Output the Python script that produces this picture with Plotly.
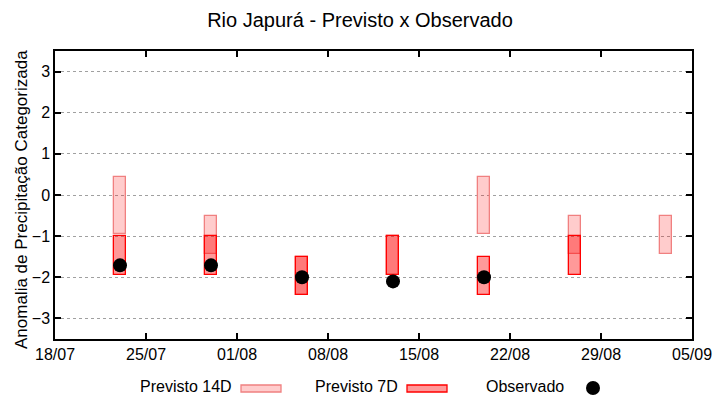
import plotly.graph_objects as go

# ---- data ----
dates = ['2023-07-23', '2023-07-30', '2023-08-06', '2023-08-13',
         '2023-08-20', '2023-08-27', '2023-09-03']
p14_low = [-0.95, -1.44, -2.44, -1.95, -0.95, -1.44, -1.44]
p14_high = [0.44, -0.51, -1.51, -1.00, 0.44, -0.51, -0.51]
p7_dates = ['2023-07-23', '2023-07-30', '2023-08-06', '2023-08-13',
            '2023-08-20', '2023-08-27']
p7_low = [-1.95, -1.95, -2.44, -1.95, -2.44, -1.95]
p7_high = [-1.00, -1.00, -1.51, -1.00, -1.51, -1.00]
obs_dates = ['2023-07-23', '2023-07-30', '2023-08-06', '2023-08-13', '2023-08-20']
obs_vals = [-1.71, -1.71, -2.00, -2.10, -2.00]
tick_dates = ['2023-07-18', '2023-07-25', '2023-08-01', '2023-08-08',
              '2023-08-15', '2023-08-22', '2023-08-29', '2023-09-05']
tick_labels = ['18/07', '25/07', '01/08', '08/08', '15/08', '22/08', '29/08', '05/09']

DAY = 86400000
FONT = "Liberation Sans"
C14_FILL = 'rgba(255,0,0,0.2)'
C14_LINE = '#f08080'
C7_FILL = 'rgba(255,0,0,0.4)'
C7_LINE = '#ff0000'

fig = go.Figure()
fig.add_trace(go.Bar(
    x=dates, base=p14_low, y=[h - l for h, l in zip(p14_high, p14_low)],
    width=[0.9 * DAY] * len(dates),
    marker=dict(color=C14_FILL, line=dict(color=C14_LINE, width=1.3)),
    showlegend=False, name='Previsto 14D'))
fig.add_trace(go.Bar(
    x=p7_dates, base=p7_low, y=[h - l for h, l in zip(p7_high, p7_low)],
    width=[0.9 * DAY] * len(p7_dates),
    marker=dict(color=C7_FILL, line=dict(color=C7_LINE, width=1.3)),
    showlegend=False, name='Previsto 7D'))
fig.add_trace(go.Scatter(
    x=obs_dates, y=obs_vals, mode='markers',
    marker=dict(color='black', size=14),
    showlegend=False, name='Observado'))

L, R, T, B = 55, 28, 51, 61
PW, PH = 720 - L - R, 400 - T - B


def px(x):
    return (x - L) / PW


def py(y):
    return (400 - B - y) / PH


fig.update_layout(
    width=720, height=400,
    margin=dict(l=L, r=R, t=T, b=B, pad=0, autoexpand=False),
    barmode='overlay', bargap=0,
    plot_bgcolor='white', paper_bgcolor='white',
    font=dict(family=FONT, size=16, color='black'),
    title=dict(text='Rio Japurá - Previsto x Observado', x=0.5, xref='container',
               xanchor='center', y=1 - 20 / 400, yanchor='middle', yref='container',
               font=dict(family=FONT, size=20, color='black')),
    xaxis=dict(type='date', range=['2023-07-18', '2023-09-05'],
               tickvals=tick_dates, ticktext=tick_labels,
               showgrid=False, zeroline=False, automargin=False,
               showline=True, linecolor='black', linewidth=1.5, mirror='ticks',
               ticks='inside', ticklen=6, tickwidth=1.5, tickcolor='black',
               tickfont=dict(family=FONT, size=16)),
    yaxis=dict(range=[-3.5, 3.5], tickvals=[-3, -2, -1, 0, 1, 2, 3],
               showgrid=True, gridcolor='#a0a0a0', griddash='dot', gridwidth=1,
               zeroline=False, automargin=False,
               showline=True, linecolor='black', linewidth=1.5, mirror='ticks',
               ticks='inside', ticklen=6, tickwidth=1.5, tickcolor='black',
               tickfont=dict(family=FONT, size=16)),
)

# y-axis title as a rotated annotation
fig.add_annotation(text='Anomalia de Precipitação Categorizada', textangle=-90,
                   xref='paper', yref='paper', x=px(21), y=py(200),
                   xanchor='center', yanchor='middle', showarrow=False,
                   font=dict(family=FONT, size=17, color='black'))

# ---- legend (drawn below the plot, text before sample, gnuplot style) ----
ly = 388
leg = [('Previsto 14D', 234, 'box14'), ('Previsto 7D', 400, 'box7'), ('Observado', 566, 'dot')]
for text, xr, kind in leg:
    fig.add_annotation(text=text, xref='paper', yref='paper', x=px(xr), y=py(ly - 2),
                       xanchor='right', yanchor='middle', showarrow=False,
                       font=dict(family=FONT, size=16, color='black'))
    s0, s1 = xr + 7, xr + 47
    if kind == 'box14':
        fig.add_shape(type='rect', xref='paper', yref='paper',
                      x0=px(s0), x1=px(s1), y0=py(ly + 4), y1=py(ly - 3),
                      fillcolor=C14_FILL, line=dict(color=C14_LINE, width=1.3))
    elif kind == 'box7':
        fig.add_shape(type='rect', xref='paper', yref='paper',
                      x0=px(s0), x1=px(s1), y0=py(ly + 4), y1=py(ly - 3),
                      fillcolor=C7_FILL, line=dict(color=C7_LINE, width=1.3))
    else:
        fig.add_shape(type='circle', xref='paper', yref='paper',
                      xsizemode='pixel', ysizemode='pixel',
                      xanchor=px((s0 + s1) / 2), yanchor=py(ly),
                      x0=-7, x1=7, y0=-7, y1=7,
                      fillcolor='black', line=dict(color='black', width=0))

fig.write_html("out.html", config={'displayModeBar': False},
               post_script="document.body.style.margin='0';document.body.style.overflow='hidden';")
